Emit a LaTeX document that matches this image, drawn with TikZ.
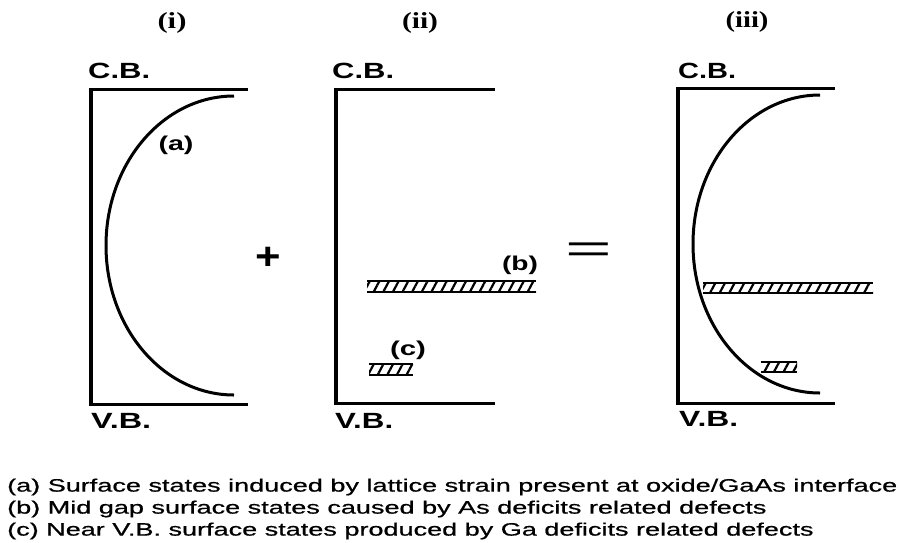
\documentclass[tikz,border=0pt]{standalone}
\usepackage{fontspec}
\setmainfont{Liberation Sans}
\newfontfamily\tserif{Liberation Serif}
\newfontfamily\legfont{Liberation Sans}[FakeBold=0.6]
\usetikzlibrary{patterns.meta}
\newcommand\wbox[2]{\resizebox{#1}{\height}{#2}}
\newcommand\hatchbarr[5]{%
  \path[pattern={Lines[angle=62,distance=8.5pt,line width=2.2pt]}] (#2,#4) rectangle (#3,#5);
  \draw[bartop] (#2,#4) -- (#3,#4) (#2,#5) -- (#3,#5);
  \coordinate (#1) at ({(#2+#3)/2},{(#4+#5)/2});
}
\tikzset{
  wall/.style={line width=3.4pt},
  band/.style={line width=3pt},
  curv/.style={line width=3pt},
  bartop/.style={line width=1.8pt},
  lbl/.style={font=\fontsize{20}{20}\selectfont\bfseries, inner sep=0pt},
  cbvb/.style={font=\fontsize{22}{22}\selectfont\bfseries, inner sep=0pt, anchor=west},
  ttl/.style={font=\tserif\fontsize{23}{23}\selectfont\bfseries, inner sep=0pt},
}
\begin{document}
\begin{tikzpicture}[x=1pt,y=-1pt]
\useasboundingbox (0,0) rectangle (902,542);
% titles
\node[ttl] (t1) at (172,23) {\wbox{29pt}{(i)}};
\node[ttl] (t2) at (420,23) {\wbox{36pt}{(ii)}};
\node[ttl] (t3) at (747,22) {\wbox{43pt}{(iii)}};
% panel (i)
\coordinate (p1tl) at (91,89);
\coordinate (p1bl) at (91,404);
\coordinate (p1tr) at (248,89);
\coordinate (p1br) at (248,404);
\draw[wall] (p1tl) -- (p1bl);
\draw[band] ([xshift=-1.7pt]p1tl) -- (p1tr);
\draw[band] ([xshift=-1.7pt]p1bl) -- (p1br);
\draw[curv] (234,96) .. controls (163.3,96) and (106,162.9) .. (106,245.5)
   .. controls (106,328.1) and (163.3,395) .. (234,395);
\node[cbvb] (cb1) at (88,71) {\wbox{62pt}{C.B.}};
\node[cbvb] (vb1) at (91,421) {\wbox{60pt}{V.B.}};
\node[lbl] (la) at (176,145) {\wbox{35pt}{(a)}};
% plus
\node[inner sep=0pt, font=\fontsize{38}{38}\selectfont\bfseries] (plus) at (268,258) {\scalebox{1.15}[1]{+}};
% panel (ii)
\coordinate (p2tl) at (336,89);
\coordinate (p2bl) at (336,403);
\coordinate (p2tr) at (495,89);
\coordinate (p2br) at (495,403);
\draw[wall] (p2tl) -- (p2bl);
\draw[band] ([xshift=-1.7pt]p2tl) -- (p2tr);
\draw[band] ([xshift=-1.7pt]p2bl) -- (p2br);
\node[cbvb] (cb2) at (332,71) {\wbox{62pt}{C.B.}};
\node[cbvb] (vb2) at (335,421) {\wbox{58pt}{V.B.}};
\hatchbarr{barb}{367}{536}{281}{292}
\hatchbarr{barc}{369}{413}{364}{375}
\node[lbl] (lb) at (520,265) {\wbox{36pt}{(b)}};
\node[lbl] (lc) at (408,350) {\wbox{36pt}{(c)}};
% equals
\node[inner sep=0pt, font=\fontsize{40}{40}\selectfont] (eq) at (589,253) {\scalebox{2}[1]{=}};
% panel (iii)
\coordinate (p3tl) at (678,88);
\coordinate (p3bl) at (678,403);
\coordinate (p3tr) at (835,88);
\coordinate (p3br) at (835,403);
\draw[wall] (p3tl) -- (p3bl);
\draw[band] ([xshift=-1.7pt]p3tl) -- (p3tr);
\draw[band] ([xshift=-1.7pt]p3bl) -- (p3br);
\draw[curv] (820,95) .. controls (749.9,95) and (693,161.7) .. (693,244)
   .. controls (693,326.3) and (749.9,393) .. (820,393);
\hatchbarr{bar3}{703}{873}{283}{293}
\hatchbarr{bar3s}{761}{797}{362}{372}
\node[cbvb] (cb3) at (678,71) {\wbox{58pt}{C.B.}};
\node[cbvb] (vb3) at (679,419) {\wbox{59pt}{V.B.}};
% legend
\node[anchor=north west, inner sep=0pt, font=\legfont\fontsize{18}{22}\selectfont] (legend) at (7,476)
  {\resizebox{890pt}{\height}{\begin{tabular}{@{}l@{}}
  (a) Surface states induced by lattice strain present at oxide/GaAs interface\\
  (b) Mid gap surface states caused by As deficits related defects\\
  (c) Near V.B. surface states produced by Ga deficits related defects
  \end{tabular}}};
\end{tikzpicture}
\end{document}
